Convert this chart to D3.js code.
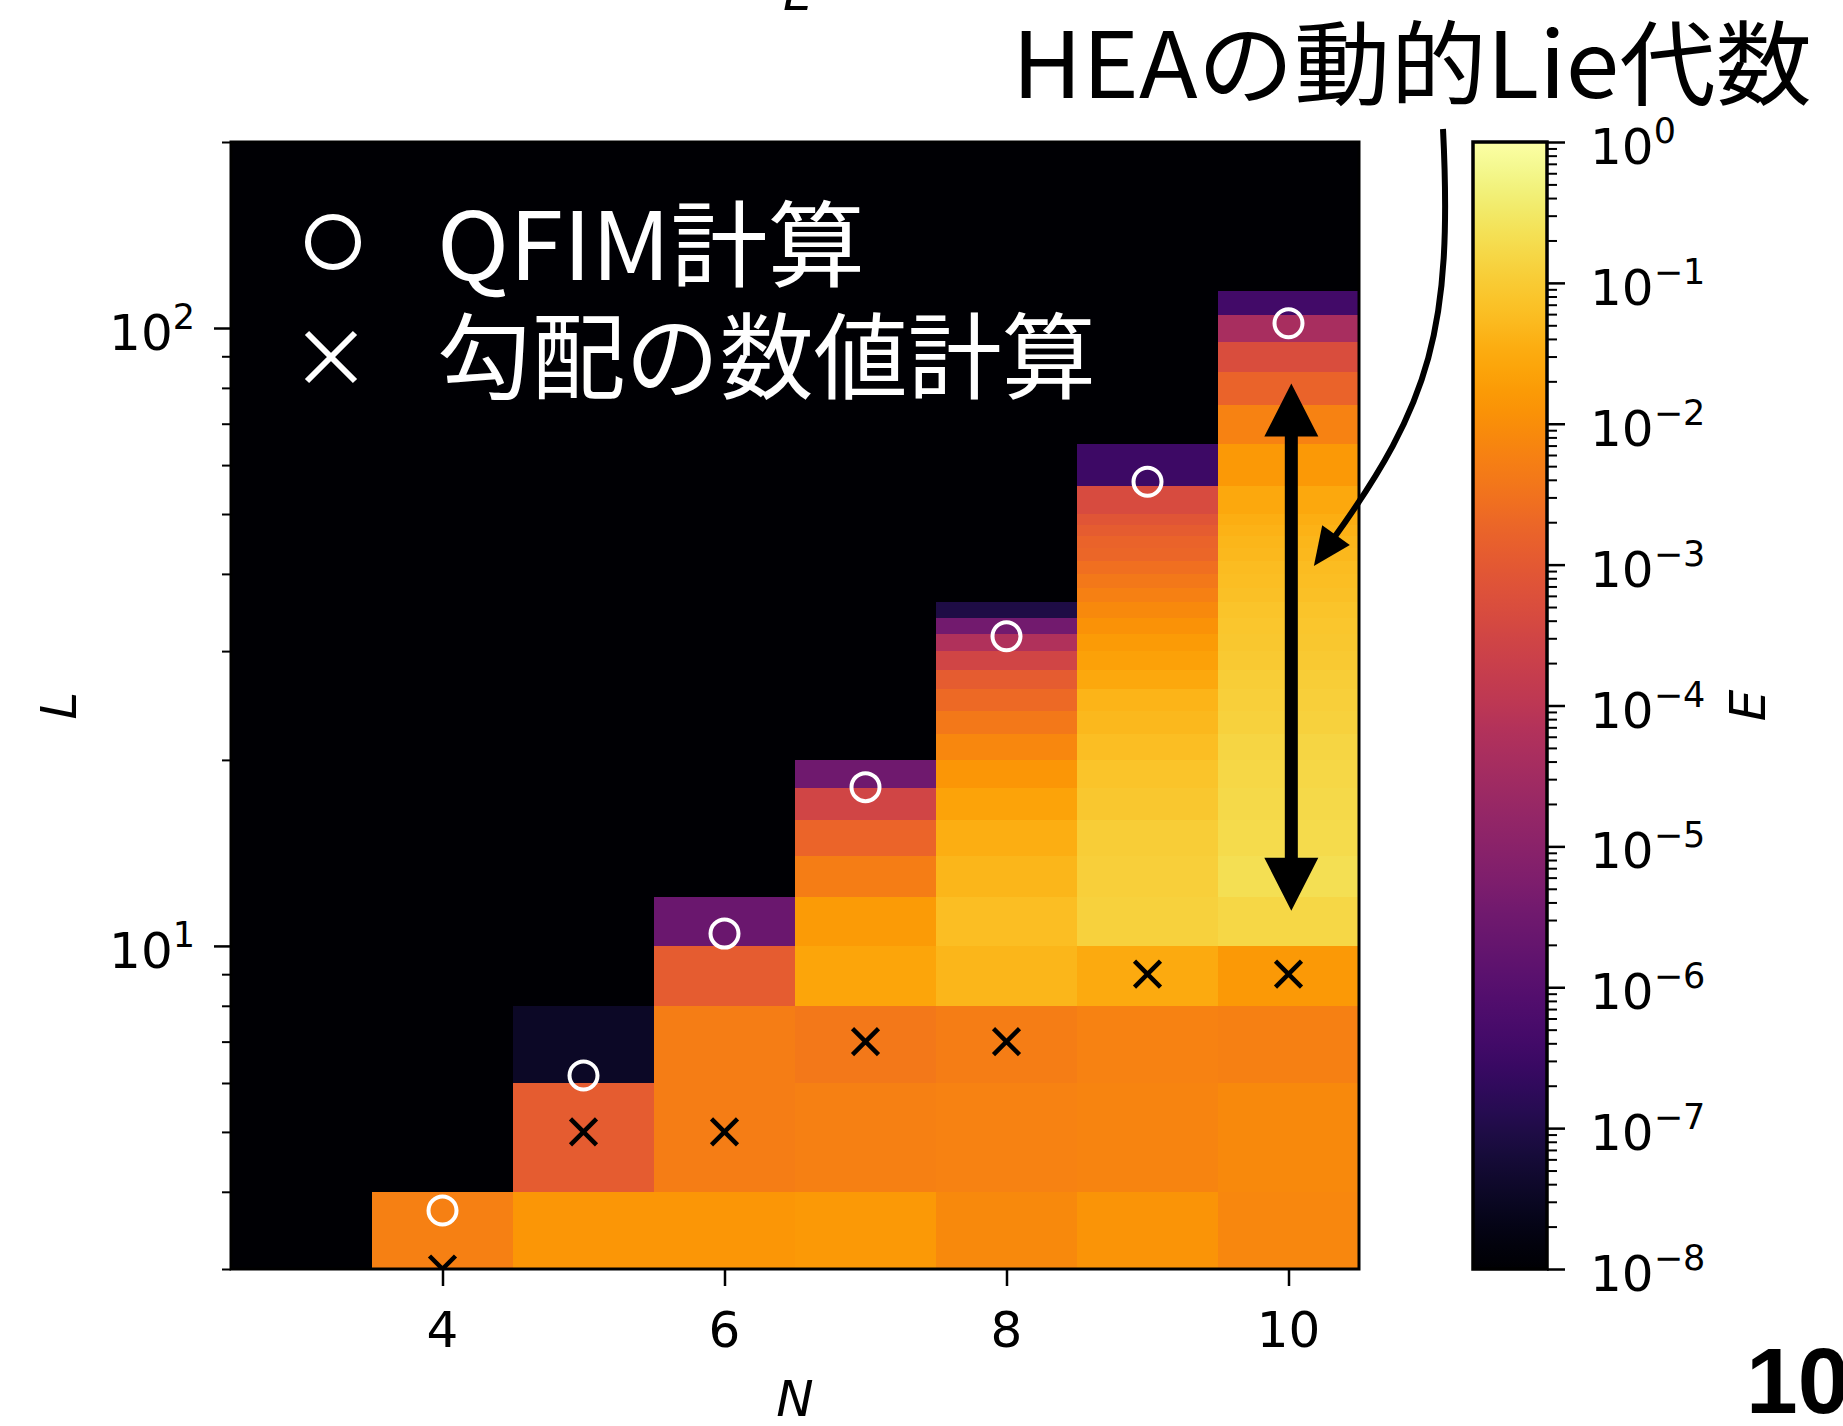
<!DOCTYPE html>
<html>
<head>
<meta charset="utf-8">
<script src="https://cdn.jsdelivr.net/npm/d3@7"></script>
<style>
  html, body { margin: 0; padding: 0; background: #fff; }
  svg { display: block; }
</style>
</head>
<body>
<div id="chart"></div>
<script>
"use strict";

// row centres of the L grid, cells reach halfway to the neighbouring rows
var Lgrid = [3, 5, 7, 9, 11, 13, 15, 17, 19, 21, 23, 25, 27, 29, 31, 33, 35, 37, 39, 41,
             43, 45, 47, 49, 51, 60, 70, 80, 90, 100, 110];

var Nvals = [4, 5, 6, 7, 8, 9, 10];

// E per column, from L=3 upward
var E4 = [5.8e-3];
var E5 = [1.4e-2, 1.1e-3, 3.6e-8];
var E6 = [1.4e-2, 5.2e-3, 5.2e-3, 1.1e-3, 2.5e-6];
var E7 = [1.6e-2, 5.8e-3, 4.0e-3, 2.5e-2, 1.7e-2, 5.2e-3, 1.7e-3, 3.0e-4, 3.0e-6];
var E8 = [8.3e-3, 6.3e-3, 5.2e-3, 4.8e-2, 6.3e-2, 4.8e-2, 3.6e-2, 2.3e-2, 1.4e-2,
          7.6e-3, 4.0e-3, 2.1e-3, 1.1e-3, 3.0e-4, 5.8e-5, 3.6e-6, 9.1e-8];
var E9 = [1.3e-2, 6.9e-3, 6.3e-3, 3.0e-2, 0.13, 0.12, 0.11, 9.1e-2, 7.6e-2, 6.3e-2,
          5.2e-2, 4.4e-2, 2.8e-2, 2.1e-2, 1.7e-2, 1.2e-2, 8.3e-3, 5.8e-3, 4.0e-3, 2.8e-3,
          1.9e-3, 1.6e-3, 1.1e-3, 7.6e-4, 4.4e-4, 3.3e-7];
var E10 = [7.6e-3, 8.3e-3, 5.8e-3, 1.6e-2, 0.16, 0.21, 0.19, 0.17, 0.16, 0.145,
           0.13, 0.12, 0.11, 0.10, 9.1e-2, 8.3e-2, 7.6e-2, 6.9e-2, 6.3e-2, 5.8e-2,
           5.2e-2, 4.8e-2, 4.0e-2, 3.6e-2, 2.8e-2, 1.6e-2, 6.3e-3, 1.6e-3, 5.2e-4, 4.0e-5, 4.0e-7];
var Ecols = [E4, E5, E6, E7, E8, E9, E10];

// markers
var qfimL = [3.73, 6.17, 10.47, 18.07, 31.7, 56.4, 101.8];   // circles
var gradL = [3, 5, 5, 7, 7, 9, 9];                           // crosses

// ticks
var xTicks = [4, 6, 8, 10];
var yMajor = [10, 100];
var cbMajor = [1e-8, 1e-7, 1e-6, 1e-5, 1e-4, 1e-3, 1e-2, 1e-1, 1];

// texts
var titleText = "HEAの動的Lie代数";
var legendText = ["QFIM計算", "勾配の数値計算"];
var legendWidth = [428, 659];

// double arrow on the N=10 column and tip of the curved arrow
var spanArrow = {N: 10.02, Ltop: 81.3, Lbottom: 11.4};
var pointTip = {N: 10.18, L: 41.2};

// set the dimensions of the figure
var W = 1843, H = 1426;
var plot = {left: 231, top: 142, width: 1128, height: 1127};
var cbar = {left: 1473, top: 142, width: 74, height: 1127};

var svg = d3.select("#chart")
  .append("svg")
    .attr("width", W)
    .attr("height", H)
    .style("font-family", "'DejaVu Sans', sans-serif");

var x = d3.scaleLinear().domain([2.5, 10.5]).range([plot.left, plot.left + plot.width]);
var y = d3.scaleLog().domain([3, 200]).range([plot.top + plot.height, plot.top]);
var c = d3.scaleLog().domain([1e-8, 1]).range([cbar.top + cbar.height, cbar.top]);
var color = d3.scaleSequentialLog(d3.interpolateInferno).domain([1e-8, 1]);

// cell edges in L
var Ledges = [Lgrid[0] - (Lgrid[1] - Lgrid[0]) / 2];
for (var i = 0; i < Lgrid.length - 1; i++) Ledges.push((Lgrid[i] + Lgrid[i + 1]) / 2);
var last = Lgrid.length - 1;
Ledges.push(Lgrid[last] + (Lgrid[last] - Lgrid[last - 1]) / 2);

var defs = svg.append("defs");
defs.append("clipPath").attr("id", "plotclip")
  .append("rect")
    .attr("x", plot.left).attr("y", plot.top)
    .attr("width", plot.width).attr("height", plot.height);

// background (no data)
svg.append("rect")
  .attr("x", plot.left).attr("y", plot.top)
  .attr("width", plot.width).attr("height", plot.height)
  .attr("fill", d3.interpolateInferno(0));

// heatmap cells
var cells = [];
Nvals.forEach(function(n, k) {
  Ecols[k].forEach(function(e, j) {
    cells.push({N: n, lo: Ledges[j], hi: Ledges[j + 1], E: e});
  });
});

var gPlot = svg.append("g").attr("clip-path", "url(#plotclip)");
gPlot.selectAll("rect.cell")
  .data(cells)
  .enter().append("rect")
    .attr("class", "cell")
    .attr("x", d => x(d.N - 0.5))
    .attr("width", d => x(d.N + 0.5) - x(d.N - 0.5))
    .attr("y", d => y(d.hi))
    .attr("height", d => y(d.lo) - y(d.hi))
    .attr("fill", d => color(d.E))
    .attr("shape-rendering", "crispEdges");

// double arrow
(function() {
  var x0 = x(spanArrow.N), yT = y(spanArrow.Ltop), yB = y(spanArrow.Lbottom);
  var hl = 53, hw = 27, sw = 6.5;
  var pts = [[x0, yT], [x0 + hw, yT + hl], [x0 + sw, yT + hl], [x0 + sw, yB - hl],
             [x0 + hw, yB - hl], [x0, yB], [x0 - hw, yB - hl], [x0 - sw, yB - hl],
             [x0 - sw, yT + hl], [x0 - hw, yT + hl]];
  gPlot.append("polygon")
    .attr("points", pts.map(p => p.join(",")).join(" "))
    .attr("fill", "#000");
})();

// crosses
gPlot.selectAll("path.cross")
  .data(Nvals)
  .enter().append("path")
    .attr("class", "cross")
    .attr("d", "M-13,-13L13,13M-13,13L13,-13")
    .attr("transform", (d, i) => "translate(" + x(d) + "," + y(gradL[i]) + ")")
    .attr("stroke", "#000")
    .attr("stroke-width", 4.5)
    .attr("fill", "none");

// circles
gPlot.selectAll("circle.qfim")
  .data(Nvals)
  .enter().append("circle")
    .attr("class", "qfim")
    .attr("cx", d => x(d))
    .attr("cy", (d, i) => y(qfimL[i]))
    .attr("r", 14)
    .attr("fill", "none")
    .attr("stroke", "#fff")
    .attr("stroke-width", 4);

// legend
var leg = svg.append("g");
leg.append("circle")
  .attr("cx", 333).attr("cy", 242).attr("r", 25)
  .attr("fill", "none").attr("stroke", "#fff").attr("stroke-width", 6);
leg.append("path")
  .attr("d", "M-24,-24L24,24M-24,24L24,-24")
  .attr("transform", "translate(331,357)")
  .attr("stroke", "#fff").attr("stroke-width", 6);
leg.selectAll("text")
  .data(legendText)
  .enter().append("text")
    .attr("x", 437)
    .attr("y", (d, i) => 280 + i * 112)
    .attr("fill", "#fff")
    .attr("textLength", (d, i) => legendWidth[i])
    .attr("lengthAdjust", "spacingAndGlyphs")
    .style("font-family", "'Noto Sans CJK JP', sans-serif")
    .style("font-size", "94px")
    .text(d => d);

// spines
svg.append("rect")
  .attr("x", plot.left).attr("y", plot.top)
  .attr("width", plot.width).attr("height", plot.height)
  .attr("fill", "none").attr("stroke", "#000").attr("stroke-width", 3);

function supLabel(sel, v) {
  var e = Math.round(Math.log10(v));
  sel.append("tspan").text("10");
  sel.append("tspan").attr("dy", -21).style("font-size", "35px")
    .text(e < 0 ? "\u2212" + (-e) : String(e));
}

// X axis
var gx = svg.append("g")
  .attr("transform", "translate(0," + (plot.top + plot.height) + ")")
  .call(d3.axisBottom(x).tickValues(xTicks).tickSize(17).tickSizeOuter(0).tickFormat(""));
gx.select(".domain").remove();
gx.selectAll(".tick line").attr("stroke", "#000").attr("stroke-width", 2.5);
svg.selectAll("text.xt")
  .data(xTicks)
  .enter().append("text")
    .attr("class", "xt")
    .attr("x", d => x(d))
    .attr("y", plot.top + plot.height + 78)
    .attr("text-anchor", "middle")
    .style("font-size", "50px")
    .text(d => d);

// Y axis, minor then major
var gyMinor = svg.append("g")
  .attr("transform", "translate(" + plot.left + ",0)")
  .call(d3.axisLeft(y).tickValues(y.ticks().filter(d => yMajor.indexOf(d) < 0)).tickSize(9).tickSizeOuter(0).tickFormat(""));
gyMinor.select(".domain").remove();
gyMinor.selectAll(".tick line").attr("stroke", "#000").attr("stroke-width", 2);
var gy = svg.append("g")
  .attr("transform", "translate(" + plot.left + ",0)")
  .call(d3.axisLeft(y).tickValues(yMajor).tickSize(17).tickSizeOuter(0).tickFormat(""));
gy.select(".domain").remove();
gy.selectAll(".tick line").attr("stroke", "#000").attr("stroke-width", 2.5);
svg.selectAll("text.yt")
  .data(yMajor)
  .enter().append("text")
    .attr("class", "yt")
    .attr("x", plot.left - 36)
    .attr("y", d => y(d) + 22)
    .attr("text-anchor", "end")
    .style("font-size", "50px")
    .each(function(d) { supLabel(d3.select(this), d); });

// axis labels
svg.append("text")
  .attr("x", x(6.5)).attr("y", 1416)
  .attr("text-anchor", "middle")
  .style("font-size", "50px").style("font-style", "italic")
  .text("N");
svg.append("text")
  .attr("transform", "translate(76," + (plot.top + plot.height / 2) + ") rotate(-90)")
  .attr("text-anchor", "middle")
  .style("font-size", "50px").style("font-style", "italic")
  .text("L");

// colorbar
var grad = defs.append("linearGradient").attr("id", "cbgrad")
  .attr("x1", 0).attr("y1", 1).attr("x2", 0).attr("y2", 0);
d3.range(0, 1.0001, 0.02).forEach(function(t) {
  grad.append("stop").attr("offset", t).attr("stop-color", d3.interpolateInferno(t));
});
svg.append("rect")
  .attr("x", cbar.left).attr("y", cbar.top)
  .attr("width", cbar.width).attr("height", cbar.height)
  .attr("fill", "url(#cbgrad)")
  .attr("stroke", "#000").attr("stroke-width", 3.5);

var cbMinor = [];
cbMajor.slice(0, -1).forEach(function(p) { for (var k = 2; k <= 9; k++) cbMinor.push(p * k); });
var gcMinor = svg.append("g")
  .attr("transform", "translate(" + (cbar.left + cbar.width) + ",0)")
  .call(d3.axisRight(c).tickValues(cbMinor).tickSize(10).tickSizeOuter(0).tickFormat(""));
gcMinor.select(".domain").remove();
gcMinor.selectAll(".tick line").attr("stroke", "#000").attr("stroke-width", 2);
var gc = svg.append("g")
  .attr("transform", "translate(" + (cbar.left + cbar.width) + ",0)")
  .call(d3.axisRight(c).tickValues(cbMajor).tickSize(18).tickSizeOuter(0).tickFormat(""));
gc.select(".domain").remove();
gc.selectAll(".tick line").attr("stroke", "#000").attr("stroke-width", 2.5);
svg.selectAll("text.ct")
  .data(cbMajor)
  .enter().append("text")
    .attr("class", "ct")
    .attr("x", 1590)
    .attr("y", d => c(d) + 22)
    .style("font-size", "50px")
    .each(function(d) { supLabel(d3.select(this), d); });
svg.append("text")
  .attr("transform", "translate(1765," + (cbar.top + cbar.height / 2) + ") rotate(-90)")
  .attr("text-anchor", "middle")
  .style("font-size", "50px").style("font-style", "italic")
  .text("E");

// title annotation with curved arrow
svg.append("text")
  .attr("x", 1012).attr("y", 98)
  .attr("textLength", 800)
  .attr("lengthAdjust", "spacingAndGlyphs")
  .style("font-family", "'Noto Sans CJK JP', sans-serif")
  .style("font-size", "92px")
  .text(titleText);

(function() {
  var p0 = [1443, 129], p1 = [1453, 329], p2 = [1430, 404];
  var tip = [x(pointTip.N), y(pointTip.L)];
  var dx = tip[0] - p2[0], dy = tip[1] - p2[1], len = Math.sqrt(dx * dx + dy * dy);
  var ux = dx / len, uy = dy / len;
  var hl = 38, hw = 17;
  var base = [tip[0] - hl * ux, tip[1] - hl * uy];
  var path = d3.path();
  path.moveTo(p0[0], p0[1]);
  path.bezierCurveTo(p1[0], p1[1], p2[0], p2[1], base[0] + 4 * ux, base[1] + 4 * uy);
  svg.append("path").attr("d", path.toString())
    .attr("fill", "none").attr("stroke", "#000").attr("stroke-width", 6);
  svg.append("polygon")
    .attr("points", [tip, [base[0] - hw * uy, base[1] + hw * ux], [base[0] + hw * uy, base[1] - hw * ux]]
      .map(p => p.join(",")).join(" "))
    .attr("fill", "#000");
})();

// cut-off texts at the figure edges
svg.append("text")
  .attr("x", 797).attr("y", 10)
  .attr("text-anchor", "middle")
  .style("font-size", "50px").style("font-style", "italic")
  .text("L");
svg.append("text")
  .attr("x", 1746).attr("y", 1413)
  .style("font-family", "'Liberation Sans', Arial, sans-serif")
  .style("font-size", "93px").style("font-weight", "bold")
  .text("10");
</script>
</body>
</html>
